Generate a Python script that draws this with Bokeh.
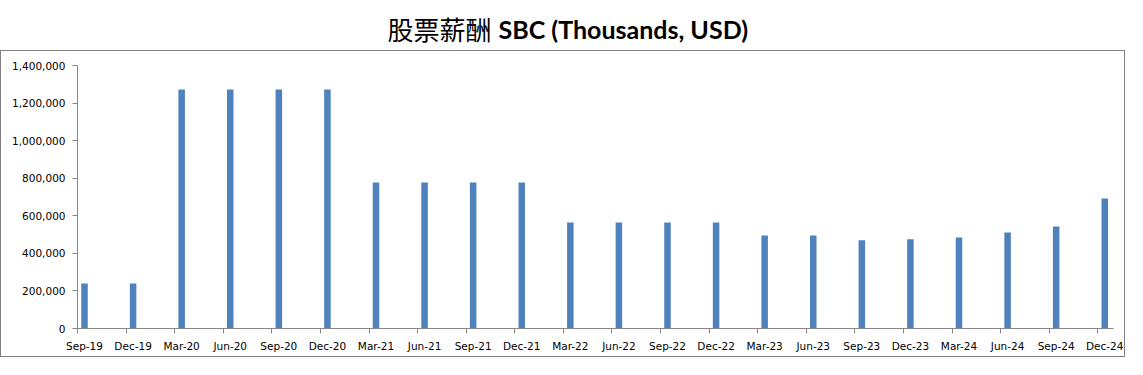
from bokeh.plotting import figure
from bokeh.layouts import column
from bokeh.models import Range1d, FixedTicker, NumeralTickFormatter
from bokeh.core.properties import value
from bokeh.embed import file_html
from bokeh.resources import INLINE

quarters = ["Sep-19", "Dec-19", "Mar-20", "Jun-20", "Sep-20", "Dec-20",
            "Mar-21", "Jun-21", "Sep-21", "Dec-21", "Mar-22", "Jun-22",
            "Sep-22", "Dec-22", "Mar-23", "Jun-23", "Sep-23", "Dec-23",
            "Mar-24", "Jun-24", "Sep-24", "Dec-24"]
sbc = [240000, 240000, 1272000, 1272000, 1272000, 1272000,
       777000, 777000, 777000, 777000, 564000, 564000,
       564000, 564000, 495000, 495000, 470000, 475000,
       484000, 511000, 543000, 692000]
y_ticks = [0, 200000, 400000, 600000, 800000, 1000000, 1200000, 1400000]
title_cn = "股票薪酬"
title_en = "SBC (Thousands, USD)"

idx = list(range(len(quarters)))
shift = 0.144
AX = "#868686"

# ---- title strip (data units = page pixels) ----
t = figure(width=1127, height=50, x_range=Range1d(76, 1114), y_range=Range1d(50, 0),
           output_backend="svg", toolbar_location=None,
           min_border_left=76, min_border_right=13,
           min_border_top=0, min_border_bottom=0,
           x_axis_type=None, y_axis_type=None)
t.outline_line_color = None
t.grid.visible = False
t.text(x=[387], y=[28], text=[title_cn], text_font=value("Noto Sans CJK SC"),
       text_font_size="26px", text_color="#000000", text_baseline="middle")
t.text(x=[498], y=[28], text=[title_en], text_font=value("Lato"),
       text_font_style="bold", text_font_size="25px", text_color="#000000",
       text_baseline="middle")

# ---- chart in a bordered box ----
p = figure(width=1125, height=307,
           x_range=Range1d(-shift, len(quarters) - 1 + 0.18),
           y_range=Range1d(0, 1400000),
           output_backend="svg", toolbar_location=None,
           min_border_left=75, min_border_right=12,
           min_border_top=14, min_border_bottom=30,
           styles={"border": "1px solid #808080"})
p.outline_line_color = None
p.grid.visible = False

p.vbar(x=idx, top=sbc, width=0.134, fill_color="#4F81BD", line_color=None)

ya = p.yaxis[0]
ya.ticker = FixedTicker(ticks=y_ticks)
ya.formatter = NumeralTickFormatter(format="0,0")
ya.axis_line_color = AX
ya.major_tick_line_color = AX
ya.major_tick_in = 0
ya.major_tick_out = 5
ya.minor_tick_line_color = None
ya.major_label_standoff = 7
ya.major_label_text_font = "DejaVu Sans"
ya.major_label_text_font_size = "10.5px"
ya.major_label_text_color = "#000000"

xa = p.xaxis[0]
xa.ticker = FixedTicker(ticks=idx, minor_ticks=[i - shift for i in idx])
xa.major_label_overrides = {i: q for i, q in zip(idx, quarters)}
xa.axis_line_color = AX
xa.major_tick_line_color = None
xa.minor_tick_line_color = AX
xa.minor_tick_in = 0
xa.minor_tick_out = 5
xa.major_tick_in = 0
xa.major_tick_out = 5
xa.major_label_standoff = 6
xa.major_label_text_font = "DejaVu Sans"
xa.major_label_text_font_size = "10.5px"
xa.major_label_text_color = "#000000"

layout = column(t, p, spacing=0)
open("out.html", "w").write(file_html(layout, INLINE))
